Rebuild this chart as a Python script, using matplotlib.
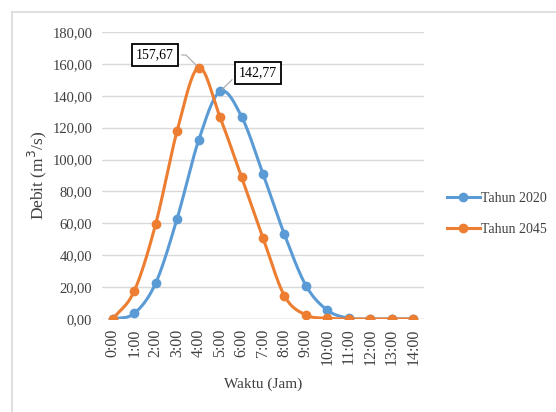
import numpy as np
import matplotlib.pyplot as plt
from matplotlib.lines import Line2D

plt.rcParams['font.family'] = ['Liberation Serif', 'DejaVu Serif']

##### data
jam = ['0:00', '1:00', '2:00', '3:00', '4:00', '5:00', '6:00', '7:00',
       '8:00', '9:00', '10:00', '11:00', '12:00', '13:00', '14:00']
debit_2020 = [0.0, 3.5, 22.5, 63.0, 112.0, 142.77, 127.0, 91.0,
              53.0, 21.0, 5.5, 0.5, 0.0, 0.0, 0.0]
debit_2045 = [0.0, 17.5, 59.5, 118.0, 157.67, 126.5, 89.0, 51.0,
              14.5, 2.5, 0.5, 0.0, 0.0, 0.0, 0.0]
yticks = np.arange(0, 181, 20)

c_blue = '#5B9BD5'
c_orange = '#ED7D31'
c_texto = '#404040'


def smooth(x, y, n=20):
    # curva suave tipo excel (catmull-rom) so para desenhar a linha
    x = np.asarray(x, float)
    y = np.asarray(y, float)
    px = np.concatenate([[2*x[0]-x[1]], x, [2*x[-1]-x[-2]]])
    py = np.concatenate([[2*y[0]-y[1]], y, [2*y[-1]-y[-2]]])
    xs, ys = [], []
    t = np.linspace(0, 1, n)
    for i in range(1, len(px)-2):
        for p, out in ((px, xs), (py, ys)):
            p0, p1, p2, p3 = p[i-1], p[i], p[i+1], p[i+2]
            out.extend(0.5*((2*p1) + (-p0+p2)*t + (2*p0-5*p1+4*p2-p3)*t**2
                            + (-p0+3*p1-3*p2+p3)*t**3))
    return np.array(xs), np.array(ys)


x = np.arange(len(jam))

fig = plt.figure(figsize=(5.56, 4.12), dpi=100)
ax = fig.add_axes([102/556, 1-319/412, 322/556, 287/412])

for serie, cor in ((debit_2020, c_blue), (debit_2045, c_orange)):
    sx, sy = smooth(x, serie)
    ax.plot(sx, sy, color=cor, lw=2.2, zorder=3)
    ax.plot(x, serie, 'o', color=cor, ms=6, zorder=4)

ax.set_xlim(-0.5, 14.5)
ax.set_ylim(0, 180)
ax.set_yticks(yticks)
ax.set_yticklabels(['{:.2f}'.format(v).replace('.', ',') for v in yticks],
                   fontsize=10.5, color=c_texto)
ax.set_xticks(x)
ax.set_xticklabels(jam, rotation=90, fontsize=11.5, color=c_texto)
ax.tick_params(axis='y', length=0, pad=7)
ax.tick_params(axis='x', length=0, pad=7)
ax.grid(axis='y', color='#D9D9D9', lw=1)
ax.set_axisbelow(True)
for s in ax.spines.values():
    s.set_visible(False)
ax.axhline(0, color='#D9D9D9', lw=1, zorder=1)

ax.set_ylabel('Debit (m$^3$/s)', fontsize=12.5, color=c_texto, labelpad=2)
ax.set_xlabel('Waktu (Jam)', fontsize=11, color=c_texto, labelpad=9)

##### caixas de valor de pico
box = dict(boxstyle='square,pad=0.3', fc='white', ec='black', lw=1.3)
ax.annotate('157,67', xy=(4, debit_2045[4]), xytext=(155/556, 1-55/412),
            textcoords='figure fraction', ha='center', va='center',
            fontsize=10, bbox=box, zorder=5,
            arrowprops=dict(arrowstyle='-', color='#A6A6A6', lw=0.8,
                            relpos=(1, 0.5),
                            connectionstyle='angle,angleA=0,angleB=135,rad=0'))
ax.annotate('142,77', xy=(5, debit_2020[5]), xytext=(258/556, 1-73/412),
            textcoords='figure fraction', ha='center', va='center',
            fontsize=10, bbox=box, zorder=5,
            arrowprops=dict(arrowstyle='-', color='#A6A6A6', lw=0.8,
                            relpos=(0, 0.5)))

##### legenda
handles = [Line2D([], [], color=c_blue, lw=2.2, marker='o', ms=6),
           Line2D([], [], color=c_orange, lw=2.2, marker='o', ms=6)]
fig.legend(handles, ['Tahun 2020', 'Tahun 2045'], loc='center left',
           bbox_to_anchor=(434/556, 1-214/412), frameon=False, fontsize=10,
           handlelength=2.4, handletextpad=0.1, labelspacing=1.3,
           labelcolor=c_texto)

##### borda do grafico
fig.add_artist(Line2D([12/556, 1], [1-12/412, 1-12/412], color='#D9D9D9', lw=1.2))
fig.add_artist(Line2D([12/556, 12/556], [0, 1-12/412], color='#D9D9D9', lw=1.2))

fig.savefig('out.png', dpi=100)
